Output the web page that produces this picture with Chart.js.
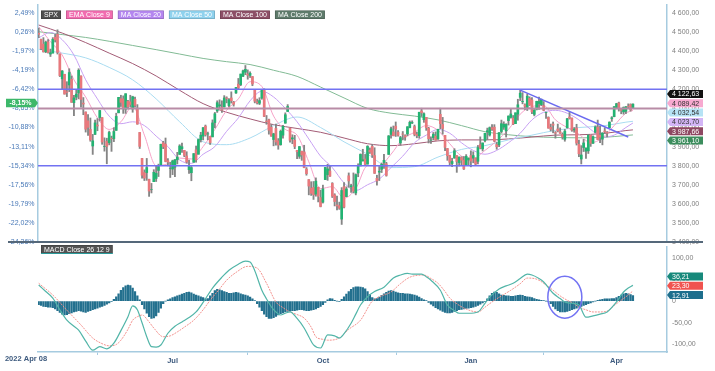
<!DOCTYPE html>
<html>
<head>
<meta charset="utf-8">
<script src="https://cdn.jsdelivr.net/npm/chart.js@4.4.0/dist/chart.umd.min.js"></script>
<style>
  html, body { margin: 0; padding: 0; background: #fff; }
  #wrap { position: relative; width: 715px; height: 371px; overflow: hidden; }
  #priceChart { position: absolute; left: 0; top: 0; z-index: 2; }
  #macdChart { position: absolute; left: 0; top: 243px; z-index: 1; }
</style>
</head>
<body>
<div id="wrap">
  <canvas id="macdChart" width="715" height="128"></canvas>
  <canvas id="priceChart" width="715" height="247"></canvas>
</div>
<script>
// SPX daily candles, trading day index 0 = 2022 Apr 08
const opens = [
  4494,4462,4437,4397,4449,4385,4390,4473,4489,4385,
  4255,4279,4187,4223,4253,4130,4159,4181,4270,4128,
  4081,4035,3990,3903,3964,4013,4052,4052,3900,3927,
  3920,3943,3942,3985,4077,4151,4150,4096,4137,4134,
  4097,4148,4101,3974,3838,3764,3764,3729,3675,3716,
  3733,3775,3805,3920,3913,3826,3785,3782,3792,3831,
  3859,3889,3880,3851,3779,3763,3818,3883,3860,3936,
  3955,4007,3966,3954,3951,4026,4087,4113,4105,4108,
  4155,4115,4155,4133,4181,4227,4225,4269,4290,4280,
  4273,4267,4195,4134,4127,4154,4199,4034,4041,4001,
  3937,3995,3930,3910,3960,4023,4084,3996,3940,3933,
  3880,3849,3876,3872,3782,3727,3682,3686,3651,3687,
  3633,3609,3727,3753,3772,3707,3647,3594,3590,3520,
  3690,3638,3747,3689,3689,3657,3762,3799,3825,3835,
  3808,3881,3901,3853,3734,3766,3781,3817,3810,3859,
  3964,3977,4007,3976,3919,3966,3957,3966,4000,4024,
  4005,3964,3957,4087,4041,4053,3996,3934,3947,3955,
  3940,4069,4016,3959,3890,3853,3811,3840,3853,3816,
  3843,3829,3805,3830,3853,3840,3840,3823,3910,3888,
  3932,3977,3961,3999,4002,3911,3909,3979,4002,3982,
  4036,4053,4049,4020,4070,4158,4136,4119,4106,4153,
  4144,4069,4096,4126,4120,4114,4078,4053,4001,4018,
  3973,3992,3977,3964,3938,3999,4055,4049,3987,3998,
  3912,3835,3895,3876,3878,3959,3917,3975,4002,3959,
  3939,3982,3974,3999,4047,4057,4102,4129,4094,4082,
  4085,4110,4121,4100
];
const highs = [
  4521,4464,4471,4453,4461,4411,4471,4488,4512,4386,
  4299,4279,4240,4308,4270,4169,4200,4308,4271,4157,
  4082,4068,4050,3964,4039,4047,4090,4052,3946,3944,
  3981,3955,3999,4075,4158,4169,4166,4177,4143,4169,
  4164,4160,4120,3974,3838,3778,3838,3729,3707,3779,
  3801,3808,3913,3928,3945,3837,3818,3829,3832,3870,
  3910,3918,3880,3873,3829,3796,3864,3903,3940,3975,
  4000,4013,3976,3954,4040,4079,4140,4145,4140,4167,
  4161,4151,4187,4137,4211,4257,4280,4301,4325,4302,
  4292,4267,4195,4149,4156,4200,4203,4063,4044,4016,
  3970,4018,3942,3987,4011,4077,4120,3996,3962,3959,
  3881,3901,3876,3907,3790,3727,3716,3717,3736,3687,
  3672,3698,3791,3807,3798,3711,3653,3641,3609,3685,
  3712,3689,3762,3703,3762,3757,3810,3862,3886,3859,
  3905,3893,3911,3894,3750,3796,3814,3859,3818,3958,
  4002,4008,4029,3984,3954,3979,3962,4004,4034,4035,
  4013,3976,4080,4101,4077,4053,4001,3951,3974,3977,
  3991,4101,4053,3959,3890,3855,3839,3889,3853,3846,
  3847,3848,3858,3840,3878,3873,3840,3906,3951,3919,
  3970,3997,4003,4015,4015,3922,3973,4039,4030,4020,
  4061,4095,4063,4077,4148,4195,4183,4124,4176,4161,
  4157,4095,4138,4159,4149,4136,4081,4056,4018,4029,
  3979,4018,3998,3972,3990,4048,4079,4050,4000,4017,
  3934,3905,3938,3894,3964,3959,3956,4009,4039,4007,
  3973,3999,3979,4030,4057,4110,4127,4133,4100,4108,
  4110,4124,4124,4124
];
const lows = [
  4471,4408,4395,4392,4390,4372,4390,4448,4385,4267,
  4200,4175,4162,4188,4132,4062,4145,4150,4107,4067,
  3976,3958,3928,3859,3963,3983,4034,3912,3876,3810,
  3909,3875,3926,3985,4077,4110,4074,4074,4098,4109,
  4080,4107,4017,3890,3735,3722,3723,3639,3657,3716,
  3717,3743,3805,3889,3820,3799,3738,3753,3742,3809,
  3859,3869,3847,3813,3759,3721,3818,3818,3860,3924,
  3935,3955,3936,3911,3951,3998,4079,4099,4079,4107,
  4129,4108,4128,4112,4178,4201,4219,4267,4277,4253,
  4262,4219,4129,4123,4120,4148,4057,4017,3965,3954,
  3904,3907,3886,3907,3944,4022,4084,3923,3915,3889,
  3837,3838,3828,3789,3750,3647,3644,3623,3640,3610,
  3584,3604,3727,3723,3744,3633,3589,3568,3571,3492,
  3578,3638,3687,3660,3657,3647,3742,3799,3824,3803,
  3808,3864,3843,3759,3698,3722,3764,3786,3745,3859,
  3944,3956,3953,3955,3907,3935,3933,3956,3998,4020,
  3956,3946,3944,4058,4027,3985,3919,3916,3935,3933,
  3937,3994,3965,3879,3828,3800,3795,3839,3765,3798,
  3802,3780,3805,3800,3794,3815,3802,3809,3888,3877,
  3925,3937,3955,3985,3926,3886,3899,3972,3990,3950,
  4013,4049,4015,4020,4038,4141,4124,4094,4089,4115,
  4073,4061,4092,4095,4114,4088,4048,3996,3982,3972,
  3944,3977,3969,3939,3928,3996,4044,3980,3975,3908,
  3847,3809,3874,3838,3864,3901,3917,3971,3937,3920,
  3909,3970,3951,3999,4032,4056,4098,4086,4072,4070,
  4073,4102,4086,4099
];
const closes = [
  4488.28,4413,4397,4447,4393,4392,4462,4459,4394,4272,
  4296,4175,4184,4288,4132,4155,4175,4300,4147,4123,
  3991,4001,3935,3930,4024,4008,4089,3924,3901,3901,
  3974,3941,3979,4058,4158,4132,4101,4177,4109,4121,
  4161,4116,4018,3901,3750,3735,3790,3667,3675,3765,
  3760,3796,3912,3900,3822,3819,3785,3825,3831,3845,
  3903,3899,3854,3819,3802,3790,3863,3831,3937,3960,
  3999,3962,3967,3921,4024,4072,4130,4119,4091,4155,
  4152,4145,4140,4122,4210,4207,4280,4297,4305,4274,
  4284,4228,4138,4129,4141,4199,4058,4031,3986,3955,
  3967,3924,3908,3980,4006,4067,4110,3933,3946,3901,
  3873,3900,3856,3790,3758,3693,3655,3647,3719,3640,
  3586,3678,3791,3783,3745,3640,3612,3589,3577,3670,
  3583,3678,3720,3695,3666,3753,3797,3859,3831,3807,
  3901,3872,3856,3760,3720,3771,3807,3828,3749,3956,
  3993,3957,3992,3959,3947,3965,3950,4004,4027,4026,
  3964,3958,4080,4077,4072,3999,3941,3934,3964,3934,
  3991,4020,3995,3896,3852,3818,3822,3878,3822,3845,
  3829,3783,3849,3840,3824,3853,3808,3895,3892,3919,
  3970,3983,3999,3991,3929,3899,3973,4020,4017,4016,
  4060,4071,4018,4077,4119,4180,4137,4111,4164,4118,
  4082,4091,4137,4136,4148,4090,4079,3997,3991,4012,
  3970,3982,3970,3951,3981,4046,4048,3986,3992,3918,
  3862,3856,3919,3892,3960,3917,3952,4003,3937,3949,
  3971,3977,3971,4028,4051,4109,4125,4101,4090,4105,
  4109,4109,4092,4122.63
];

// moving averages
const ma5Idx = [0,5,10,15,20,25,30,35,40,45,50,55,60,65,70,75,80,85,90,95,100,105,110,115,120,125,
  130,135,140,145,150,155,160,165,170,175,180,185,190,195,200,205,210,215,220,225,230,235,240,245,250,253];
const ema9 = [4528,4450,4380,4250,4160,4050,3990,4030,4110,3960,3800,3810,3840,3835,3900,3990,4090,4150,4240,4215,
  4060,3990,3960,3820,3680,3690,3630,3680,3800,3800,3860,3940,3975,4010,3985,3915,3850,3838,3880,3930,
  3990,4070,4110,4115,4040,4000,3965,3920,3945,4010,4075,4089.42];
const ma20 = [4470,4498,4460,4380,4250,4150,4060,4020,4030,4010,3955,3900,3830,3812,3860,3900,3980,4050,4140,4190,
  4160,4100,4030,3940,3850,3790,3710,3670,3700,3730,3790,3850,3920,3960,3990,3970,3920,3880,3860,3880,
  3920,3970,4040,4080,4090,4075,4040,3990,3950,3960,4000,4023.70];
const ma10Idx = [0,10,20,30,40,50,60,70,80,90,100,110,120,130,140,150,160,170,180,190,200,210,220,230,240,250,253];
const ma50 = [4410,4390,4365,4315,4250,4150,4030,3925,3910,3945,4010,4055,4000,3925,3860,3790,3795,3845,3885,3905,
  3935,3960,3985,4000,4008,4028,4032.54];
const ma100 = [4537,4495,4445,4390,4335,4270,4195,4125,4080,4045,4015,3995,3975,3945,3915,3905,3915,3930,3935,3935,
  3940,3950,3960,3962,3968,3984,3987.66];
const ma200 = [4502,4487,4472,4452,4430,4408,4385,4362,4345,4330,4300,4268,4212,4155,4100,4075,4060,4040,4010,3978,
  3962,3952,3948,3946,3948,3958,3961.10];

// MACD 26 12 9
const macdPts = [[0,37],[3,22],[6,7],[9,-20],[12,-44],[15,-58],[17,-67],[20,-92],[23,-113],[26,-105],[29,-110],
  [32,-97],[35,-68],[38,-36],[40,-11],[42,-20],[44,-50],[46,-82],[48,-105],[50,-106],[52,-101],[55,-74],[58,-58],
  [61,-48],[64,-38],[67,-25],[70,-3],[74,30],[78,55],[81,71],[85,85],[88,92],[90,90],[92,70],[95,25],[97,5],
  [99,-13],[101,-25],[103,-32],[105,-28],[107,-25],[110,-40],[113,-62],[115,-82],[117,-101],[120,-108],[123,-78],
  [126,-80],[128,-85],[130,-75],[133,-51],[135,-30],[137,-9],[140,10],[143,22],[147,32],[151,53],[154,60],[157,64],
  [159,62],[163,62],[165,56],[167,48],[171,25],[174,-9],[177,-22],[179,-28],[183,-28],[187,-25],[190,-5],[192,9],
  [196,28],[199,35],[202,41],[205,52],[208,62],[210,60],[213,52],[215,44],[219,18],[222,6],[224,-2],[227,-5],
  [230,-9],[233,-37],[236,-34],[239,-30],[242,-25],[246,-2],[249,21],[251,30],[253,36.21]];
const signalPts = [[0,41],[6,14],[12,-21],[18,-55],[23,-85],[27,-98],[30,-103],[33,-100],[35,-90],[38,-65],
  [40,-44],[42,-36],[44,-32],[47,-48],[49,-62],[53,-82],[56,-80],[59,-71],[62,-60],[66,-44],[70,-20],[73,2],
  [77,28],[80,48],[84,66],[89,80],[93,76],[97,41],[101,-2],[104,-15],[107,-25],[110,-31],[113,-39],[116,-60],
  [118,-82],[121,-88],[123,-90],[128,-85],[132,-65],[137,-44],[142,0],[146,12],[150,21],[154,40],[158,55],
  [164,60],[167,52],[170,41],[173,22],[175,7],[178,-6],[181,-16],[187,-25],[190,-14],[193,-2],[197,12],[201,25],
  [205,40],[208,53],[211,52],[213,48],[216,37],[219,25],[222,12],[225,2],[228,-6],[230,-14],[233,-20],[236,-25],
  [239,-25],[242,-23],[245,-10],[247,-2],[250,10],[253,23.30]];
const histogram = [
  -8,-10,-12,-13,-14,-14,-15,
  -18,-22,-26,-30,-32,-31,-29,-27,
  -25,-24,-22,-23,-25,-26,-24,-22,-20,-18,-16,-14,
  -12,-10,-7,-4,-1,
  4,10,17,25,31,35,37,36,30,22,12,3,
  -8,-18,-28,-36,-40,-39,-34,-26,-16,-6,
  0,3,5,
  8,10,12,14,16,18,20,21,19,16,14,12,10,8,
  5,6,
  12,18,24,27,26,24,22,20,18,18,19,20,19,17,15,14,12,9,
  5,1,
  -6,-14,-22,-30,-36,-40,-40,-38,-35,-32,-29,-27,-25,-24,-23,-22,-22,
  -21,-20,-20,-21,-22,-22,-21,-20,-18,-15,-12,-8,-3,
  3,6,5,2,0,-1,
  4,10,16,22,27,31,33,33,32,
  31,28,22,15,8,
  5,6,9,13,17,
  20,23,24,23,21,19,18,18,17,17,16,15,14,12,9,6,
  3,1,
  -3,-7,-11,-15,-18,-21,-24,-26,-27,-27,-26,-24,-22,-20,-19,-18,-17,-16,-15,-14,-12,-10,
  -7,-4,-1,
  5,12,18,21,20,17,14,
  13,12,12,11,11,12,13,14,13,11,10,9,8,6,
  4,3,2,1,0,-1,
  -6,-12,-18,-22,-25,-25,-25,-24,-22,-20,-18,-16,-14,-12,-10,-8,
  -6,-4,-2,0,
  2,3,4,5,5,5,6,6,8,
  11,14,17,18,17,15,12.91
];

// drawn levels and trend line (price units)
const levelValues = [4200, 4100, 3800];
const trendPts = [[205, 4196], [251, 3950]];
const circlePt = [224, 9];

// axes
const priceTicks = [3400,3500,3600,3700,3800,3900,4000,4100,4200,4300,4400,4500,4600];
const priceTickLabels = ['3 400,00','3 500,00','3 600,00','3 700,00','3 800,00','3 900,00','4 000,00',
  '4 100,00','4 200,00','4 300,00','4 400,00','4 500,00','4 600,00'];
const pctTickLabels = ['-24,26%','-22,02%','-19,79%','-17,56%','-15,34%','-13,11%','-10,88%','-8,65%',
  '-6,42%','-4,19%','-1,97%','0,26%','2,49%'];
const macdTicks = [-100, -50, 0, 50, 100];
const macdTickLabels = ['-100,00', '-50,00', '0', '50,00', '100,00'];
const monthIdx = [57, 121, 184, 246];
const monthLabels = ['Jul', 'Oct', 'Jan', 'Apr'];
const firstDateLabel = '2022 Apr 08';

const seriesNames = ['SPX', 'EMA Close 9', 'MA Close 20', 'MA Close 50', 'MA Close 100', 'MA Close 200'];
const macdName = 'MACD Close 26 12 9';

// styles
const X_MIN = -0.3, X_MAX = 267.5;
const UP = '#22b372', DOWN = '#e9787c', WICK = '#858585';
const AXIS = '#a6cbe0';
const NONE = 'rgba(0,0,0,0)';
const FONT = 'Arial, "Liberation Sans", sans-serif';
const legendBg = ['#4f4f4f', '#f26db0', '#b587f0', '#8fd2ee', '#8d4f67', '#5e7b6b'];
const lineColors = { ema9: '#f6a2c8', ma20: '#c8a1f3', ma50: '#a9dcf1', ma100: '#a35c76', ma200: '#82bb95' };

Chart.defaults.font.family = FONT;
Chart.defaults.animation = false;

function xy(idx, vals) { return idx.map((x, i) => ({ x: x, y: vals[i] })); }
function fmt(v) {
  const s = v.toFixed(2).split('.');
  return s[0].replace(/\B(?=(\d{3})+(?!\d))/g, ' ') + ',' + s[1];
}
function tag(ctx, x, cy, w, h, bg, fg, text, side, bold) {
  const d = side === 'left' ? 1 : -1;
  ctx.fillStyle = bg;
  ctx.beginPath();
  ctx.moveTo(x, cy);
  ctx.lineTo(x + d * 3, cy - h / 2);
  ctx.lineTo(x + d * (3 + w), cy - h / 2);
  ctx.lineTo(x + d * (3 + w), cy + h / 2);
  ctx.lineTo(x + d * 3, cy + h / 2);
  ctx.closePath();
  ctx.fill();
  ctx.fillStyle = fg;
  ctx.font = (bold ? 'bold ' : '') + '7px ' + FONT;
  ctx.textBaseline = 'middle';
  ctx.textAlign = 'left';
  const tx = side === 'left' ? x + 5 : x - 3 - w + (w - ctx.measureText(text).width) / 2;
  ctx.fillText(text, tx, cy + 0.5);
}
function box(ctx, x, y, text, bg) {
  ctx.font = '7px ' + FONT;
  const w = ctx.measureText(text).width + 6;
  ctx.fillStyle = bg;
  ctx.fillRect(x, y, w, 8.5);
  ctx.strokeStyle = 'rgba(0,0,0,0.25)';
  ctx.lineWidth = 0.6;
  ctx.strokeRect(x + 0.3, y + 0.3, w - 0.6, 7.9);
  ctx.fillStyle = '#fff';
  ctx.textBaseline = 'middle';
  ctx.textAlign = 'left';
  ctx.fillText(text, x + 3, y + 4.6);
  return w;
}
// y axis whose labels sit gap px away from the axis line
function sideAxis(position, min, max, ticks, labels, color, width, gap) {
  return {
    position: position, min: min, max: max,
    afterBuildTicks: s => { s.ticks = ticks.map(v => ({ value: v })); },
    afterFit: s => { s.width = width; },
    ticks: { callback: (v, i) => labels[i], color: color, font: { size: 7 }, padding: 0, autoSkip: false },
    grid: { display: true, drawOnChartArea: false, drawTicks: true, tickLength: gap, color: NONE },
    border: { color: AXIS, width: 1.5 }
  };
}

const candleIdx = closes.map((c, i) => i);

const priceDecor = {
  id: 'priceDecor',
  afterDatasetsDraw(chart) {
    const { ctx, chartArea: a, scales: { y } } = chart;
    const colors = ['#7272f2', '#b88ca6', '#7272f2'];
    const widths = [1.5, 2, 1.5];
    ctx.save();
    levelValues.forEach((v, i) => {
      const py = y.getPixelForValue(v);
      ctx.strokeStyle = colors[i];
      ctx.lineWidth = widths[i];
      ctx.beginPath(); ctx.moveTo(a.left, py); ctx.lineTo(a.right, py); ctx.stroke();
    });
    ctx.restore();
  },
  afterDraw(chart) {
    const { ctx, chartArea: a } = chart;
    ctx.save();
    // panel separator
    ctx.strokeStyle = '#55687a';
    ctx.lineWidth = 2;
    ctx.beginPath(); ctx.moveTo(8, a.bottom); ctx.lineTo(703, a.bottom); ctx.stroke();
    // legend
    let lx = 41;
    seriesNames.forEach((n, i) => { lx += box(ctx, lx, 10.5, n, legendBg[i]) + 5; });
    // last values on the right
    const last = a => a[a.length - 1];
    const tags = [
      { v: last(closes), bg: '#111111', fg: '#fff' },
      { v: last(ema9), bg: '#f7a9d0', fg: '#333' },
      { v: last(ma50), bg: '#b6e3f5', fg: '#333' },
      { v: last(ma20), bg: '#d3b5f6', fg: '#333' },
      { v: last(ma100), bg: '#8e4762', fg: '#fff' },
      { v: last(ma200), bg: '#3c8d5d', fg: '#fff' }
    ].sort((p, q) => q.v - p.v);
    tags.forEach((t, i) => tag(ctx, a.right, 94 + i * 9.3, 33, 8, t.bg, t.fg, fmt(t.v), 'left'));
    // last value in percent on the left
    const pct = (last(closes) / closes[0] - 1) * 100;
    tag(ctx, a.left, 103, 29, 8.5, '#3db86a', '#fff', pct.toFixed(2).replace('.', ',') + '%', 'right', true);
    ctx.restore();
  }
};

new Chart(document.getElementById('priceChart'), {
  type: 'bar',
  data: {
    datasets: [
      { type: 'line', data: xy(trendPts.map(p => p[0]), trendPts.map(p => p[1])), borderColor: '#6b6bf0',
        borderWidth: 1.5, pointRadius: 0, order: 0 },
      { data: candleIdx.map(i => ({ x: i, y: [opens[i], closes[i]] })), grouped: false, barThickness: 2,
        backgroundColor: c => closes[c.dataIndex] >= opens[c.dataIndex] ? UP : DOWN, order: 1 },
      { data: candleIdx.map(i => ({ x: i, y: [lows[i], highs[i]] })), grouped: false, barThickness: 1.2,
        backgroundColor: WICK, order: 2 },
      { type: 'line', data: xy(ma5Idx, ema9), borderColor: lineColors.ema9, borderWidth: 1, pointRadius: 0,
        cubicInterpolationMode: 'monotone', order: 5 },
      { type: 'line', data: xy(ma5Idx, ma20), borderColor: lineColors.ma20, borderWidth: 1, pointRadius: 0,
        cubicInterpolationMode: 'monotone', order: 6 },
      { type: 'line', data: xy(ma10Idx, ma50), borderColor: lineColors.ma50, borderWidth: 1, pointRadius: 0,
        cubicInterpolationMode: 'monotone', order: 7 },
      { type: 'line', data: xy(ma10Idx, ma100), borderColor: lineColors.ma100, borderWidth: 1, pointRadius: 0,
        cubicInterpolationMode: 'monotone', order: 8 },
      { type: 'line', data: xy(ma10Idx, ma200), borderColor: lineColors.ma200, borderWidth: 1, pointRadius: 0,
        cubicInterpolationMode: 'monotone', order: 9 }
    ]
  },
  options: {
    responsive: false,
    events: [],
    layout: { padding: { top: 5, bottom: 5, left: 0, right: 0 } },
    plugins: { legend: { display: false }, tooltip: { enabled: false } },
    scales: {
      x: { type: 'linear', display: false, min: X_MIN, max: X_MAX, offset: false },
      yL: sideAxis('left', 3400, 4642, priceTicks, pctTickLabels, '#4a7ab8', 38, 3.5),
      y: sideAxis('right', 3400, 4642, priceTicks, priceTickLabels, '#808080', 48, 5)
    }
  },
  plugins: [priceDecor]
});

const macdDecor = {
  id: 'macdDecor',
  afterDraw(chart) {
    const { ctx, chartArea: a, scales: { x, y } } = chart;
    ctx.save();
    box(ctx, 41, 2, macdName, '#525252');
    ctx.strokeStyle = '#2a9a9a'; ctx.lineWidth = 1;
    ctx.beginPath(); ctx.moveTo(41, 10.5); ctx.lineTo(41 + ctx.measureText(macdName).width + 6, 10.5); ctx.stroke();
    // circled area
    ctx.strokeStyle = '#7373f3'; ctx.lineWidth = 1.5;
    ctx.beginPath();
    ctx.ellipse(x.getPixelForValue(circlePt[0]), y.getPixelForValue(circlePt[1]), 17, 21, 0, 0, Math.PI * 2);
    ctx.stroke();
    // first date on the time axis
    ctx.fillStyle = '#3d5a7e';
    ctx.font = 'bold 7.5px ' + FONT;
    ctx.textAlign = 'center'; ctx.textBaseline = 'middle';
    ctx.fillText(firstDateLabel, 26, 116);
    // last values
    const last = a => a[a.length - 1];
    tag(ctx, a.right, 33.5, 33, 8, '#17897b', '#fff', last(macdPts)[1].toFixed(2).replace('.', ','), 'left');
    tag(ctx, a.right, 42.8, 33, 8, '#f0534f', '#fff', last(signalPts)[1].toFixed(2).replace('.', ','), 'left');
    tag(ctx, a.right, 52.1, 33, 8, '#1d6e8d', '#fff', last(histogram).toFixed(2).replace('.', ','), 'left');
    ctx.restore();
  }
};

new Chart(document.getElementById('macdChart'), {
  type: 'bar',
  data: {
    datasets: [
      { type: 'line', data: xy(macdPts.map(p => p[0]), macdPts.map(p => p[1])), borderColor: '#52b5a8',
        borderWidth: 1.2, pointRadius: 0, cubicInterpolationMode: 'monotone', order: 1 },
      { type: 'line', data: xy(signalPts.map(p => p[0]), signalPts.map(p => p[1])), borderColor: '#f3938f',
        borderWidth: 1, borderDash: [2, 1], pointRadius: 0, cubicInterpolationMode: 'monotone', order: 2 },
      { data: histogram.map((v, i) => ({ x: i, y: v })), barThickness: 1.6, backgroundColor: '#23708e', order: 3 }
    ]
  },
  options: {
    responsive: false,
    events: [],
    layout: { padding: { top: 4, bottom: 0, left: 38, right: 0 } },
    plugins: { legend: { display: false }, tooltip: { enabled: false } },
    scales: {
      x: {
        type: 'linear', min: X_MIN, max: X_MAX, offset: false,
        afterBuildTicks: s => { s.ticks = monthIdx.map(v => ({ value: v })); },
        afterFit: s => { s.height = 19; },
        ticks: { callback: (v, i) => monthLabels[i], color: '#3d5a7e', font: { size: 7.5, weight: 'bold' },
          padding: 1, maxRotation: 0, autoSkip: false },
        grid: { drawOnChartArea: false, drawTicks: true, tickLength: 3, color: AXIS },
        border: { color: AXIS, width: 1.5 }
      },
      y: sideAxis('right', -117.2, 124.1, macdTicks, macdTickLabels, '#808080', 48, 5)
    }
  },
  plugins: [macdDecor]
});
</script>
</body>
</html>
